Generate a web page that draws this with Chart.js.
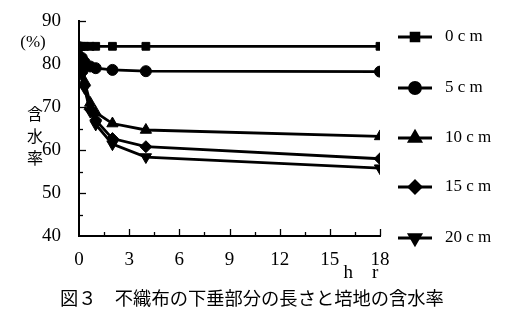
<!DOCTYPE html>
<html><head><meta charset="utf-8">
<script src="https://cdn.jsdelivr.net/npm/chart.js@4/dist/chart.umd.min.js"></script>
<style>html,body{margin:0;padding:0;background:#fff;}canvas{display:block;}</style>
</head><body>
<canvas id="c" width="518" height="319"></canvas>
<script>
const hours = [0, 0.17, 0.33, 0.67, 1, 2, 4, 18];
const s0cm  = [84.2, 84.2, 84.2, 84.2, 84.2, 84.2, 84.2, 84.2];
const s5cm  = [84, 81.5, 80.5, 79.5, 79.1, 78.7, 78.4, 78.3];
const s10cm = [84, 79, 76, 71, 68.8, 66.2, 64.7, 63.2];
const s15cm = [84, 78, 75, 69.5, 67, 62.7, 60.8, 58.0];
const s20cm = [84, 77.5, 74.5, 69, 66, 61.4, 58.4, 55.8];
const seriesNames = ['0 c m', '5 c m', '10 c m', '15 c m', '20 c m'];
const xTicks = [0, 3, 6, 9, 12, 15, 18];
const yTicks = [40, 50, 60, 70, 80, 90];
const titleText = '図３　不織布の下垂部分の長さと培地の含水率';

const styles = [
  {pointStyle: 'rect', radius: 5.5},
  {pointStyle: 'circle', radius: 5.5},
  {pointStyle: 'triangle', radius: 6.5, rotation: 0},
  {pointStyle: 'rectRot', radius: 6},
  {pointStyle: 'triangle', radius: 6.5, rotation: 180}
];
const allSeries = [s0cm, s5cm, s10cm, s15cm, s20cm];
const datasets = allSeries.map((s, i) => ({
  label: seriesNames[i],
  data: hours.map((h, j) => ({x: h, y: s[j]})),
  borderColor: '#000', backgroundColor: '#000', borderWidth: 2.8,
  pointStyle: styles[i].pointStyle, pointRadius: styles[i].radius,
  pointRotation: styles[i].rotation || 0, pointBorderWidth: 1,
  tension: 0, fill: false
}));

const serif = '"Liberation Serif", "DejaVu Serif", serif';
const decor = {
  id: 'decor',
  afterDraw(chart) {
    const ctx = chart.ctx, xs = chart.scales.x, ys = chart.scales.y;
    const a = chart.chartArea;
    ctx.save();
    ctx.strokeStyle = '#000'; ctx.lineWidth = 1.3;
    for (let v = 1.5; v <= 18; v += 1.5) {
      const px = Math.round(xs.getPixelForValue(v)) + 0.5;
      const len = (v % 3 === 0) ? 7 : 4;
      ctx.beginPath(); ctx.moveTo(px, a.bottom); ctx.lineTo(px, a.bottom - len); ctx.stroke();
    }
    for (let v = 45; v <= 90; v += 5) {
      const py = Math.round(ys.getPixelForValue(v)) + 0.5;
      const len = (v % 10 === 0) ? 7 : 4;
      ctx.beginPath(); ctx.moveTo(a.left, py); ctx.lineTo(a.left + len, py); ctx.stroke();
    }
    ctx.fillStyle = '#000';
    ctx.font = '17px ' + serif;
    ctx.textAlign = 'center'; ctx.textBaseline = 'middle';
    ctx.fillText('(%)', 33, 43);
    ctx.font = '16px "Noto Sans CJK JP"';
    ctx.fillText('含', 35, 114);
    ctx.fillText('水', 35, 136);
    ctx.fillText('率', 35, 158);
    ctx.font = '19px ' + serif;
    ctx.fillText('h\u2003r', 361, 273);
    ctx.font = '18.3px "Noto Sans CJK JP"';
    ctx.textAlign = 'left';
    ctx.fillText(titleText, 60, 298);
    const rows = [37, 88, 138, 187, 238];
    chart.data.datasets.forEach((ds, i) => {
      const y = rows[i];
      ctx.lineWidth = 2.8;
      ctx.beginPath(); ctx.moveTo(398, y); ctx.lineTo(432, y); ctx.stroke();
      Chart.helpers.drawPoint(ctx, {pointStyle: ds.pointStyle, radius: ds.pointRadius, rotation: ds.pointRotation, borderWidth: 1}, 415, y);
      ctx.fill();
      ctx.font = '17px ' + serif;
      ctx.textAlign = 'left';
      ctx.fillText(ds.label, 445, y);
    });
    ctx.restore();
  }
};

new Chart(document.getElementById('c'), {
  type: 'line',
  data: {datasets},
  options: {
    responsive: false, animation: false,
    layout: {padding: {left: 0, right: 138, top: 21, bottom: 0}},
    plugins: {legend: {display: false}, tooltip: {enabled: false}},
    scales: {
      x: {
        type: 'linear', min: 0, max: 18,
        afterBuildTicks: s => { s.ticks = xTicks.map(v => ({value: v})); },
        afterFit: s => { s.height = 83; },
        grid: {display: false},
        border: {display: true, color: '#000', width: 2},
        ticks: {color: '#000', font: {family: serif, size: 19}, padding: 5, maxRotation: 0}
      },
      y: {
        min: 40, max: 90,
        afterBuildTicks: s => { s.ticks = yTicks.map(v => ({value: v})); },
        afterFit: s => { s.width = 79; },
        grid: {display: false},
        border: {display: true, color: '#000', width: 2},
        ticks: {color: '#000', font: {family: serif, size: 19}, padding: 10}
      }
    }
  },
  plugins: [decor]
});
</script>
</body></html>
